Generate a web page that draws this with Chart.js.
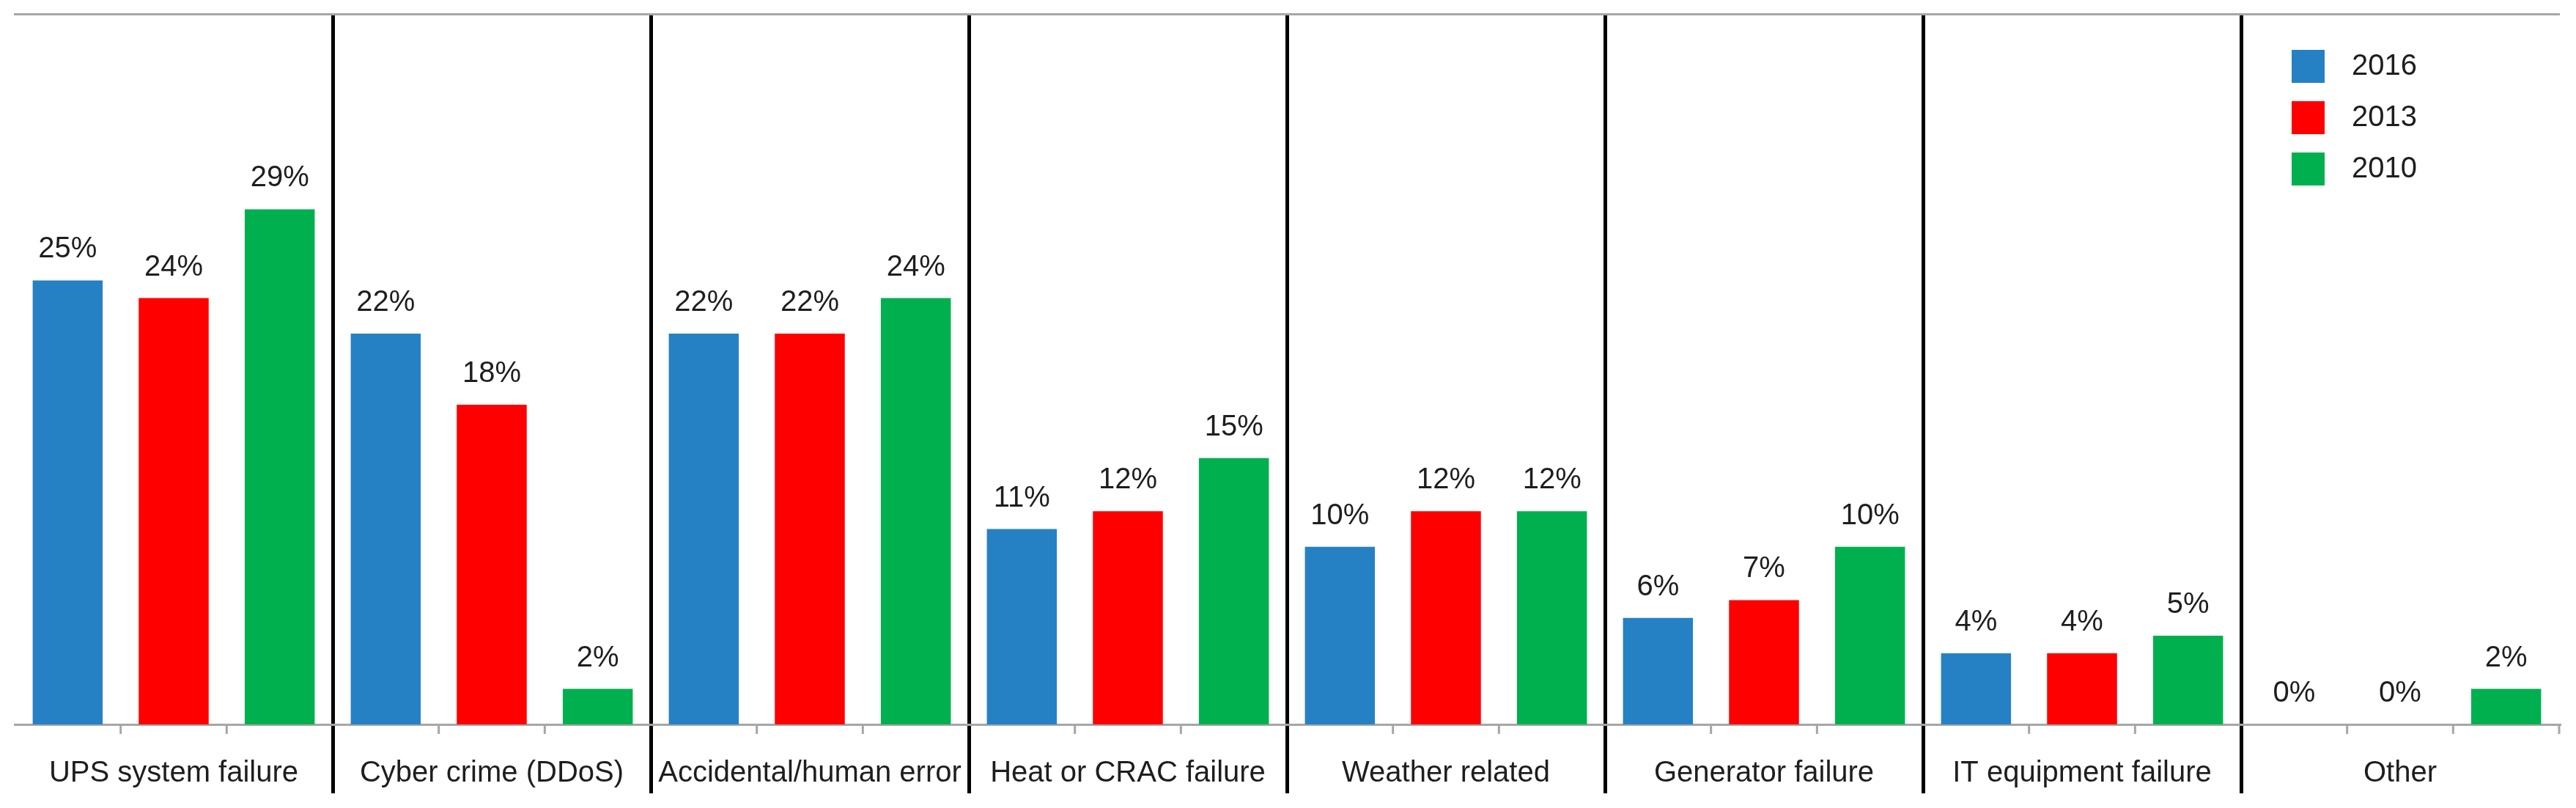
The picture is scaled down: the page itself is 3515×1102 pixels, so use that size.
<!DOCTYPE html>
<html>
<head>
<meta charset="utf-8">
<script src="https://cdn.jsdelivr.net/npm/chart.js@4.4.1/dist/chart.umd.min.js"></script>
<style>
  html, body { margin: 0; padding: 0; background: #fff; }
  #wrap { width: 3515px; height: 1102px; }
</style>
</head>
<body>
<div id="wrap"><canvas id="myChart"></canvas></div>
<script>
const categories = [
    'UPS system failure',
    'Cyber crime (DDoS)',
    'Accidental/human error',
    'Heat or CRAC failure',
    'Weather related',
    'Generator failure',
    'IT equipment failure',
    'Other',
];
const years = ['2016', '2013', '2010'];
const values2016 = [25, 22, 22, 11, 10, 6, 4, 0];
const values2013 = [24, 18, 22, 12, 12, 7, 4, 0];
const values2010 = [29, 2, 24, 15, 12, 10, 5, 2];
const colors = ['#2681c4', '#ff0000', '#00b04f'];

const font = '"Liberation Sans", Arial, sans-serif';
const textColor = '#1e1e1e';
const axisGray = '#a6a6a6';

// value labels above every bar
const barLabels = {
    id: 'barLabels',
    afterDatasetsDraw(chart) {
        const ctx = chart.ctx;
        ctx.save();
        ctx.font = '40px ' + font;
        ctx.fillStyle = textColor;
        ctx.textAlign = 'center';
        ctx.textBaseline = 'alphabetic';
        chart.data.datasets.forEach(function(ds, i) {
            chart.getDatasetMeta(i).data.forEach(function(bar, j) {
                ctx.fillText(ds.data[j] + '%', bar.x, bar.y - 31);
            });
        });
        ctx.restore();
    }
};

// small grey ticks between the bars of a group
const slotTicks = {
    id: 'slotTicks',
    afterDraw(chart) {
        const x = chart.scales.x;
        const ctx = chart.ctx;
        const n = categories.length * years.length;
        const step = (x.right - x.left) / n;
        ctx.save();
        ctx.strokeStyle = axisGray;
        ctx.lineWidth = 3;
        for (let i = 1; i <= n; i++) {
            if (i % years.length === 0 && i < n) continue;
            const px = x.left + i * step;
            ctx.beginPath();
            ctx.moveTo(px, x.top);
            ctx.lineTo(px, x.top + 13);
            ctx.stroke();
        }
        ctx.restore();
    }
};

// move the legend to the top right corner of the plot
const legendSpot = {
    id: 'legendSpot',
    afterLayout(chart) {
        const lg = chart.legend;
        const area = chart.chartArea;
        lg.left = area.right - 390;
        lg.right = area.right - 194;
        lg.top = area.top + 24;
    }
};

const data = {
    labels: categories,
    datasets: [
        { label: years[0], data: values2016, backgroundColor: colors[0], borderWidth: 0 },
        { label: years[1], data: values2013, backgroundColor: colors[1], borderWidth: 0 },
        { label: years[2], data: values2010, backgroundColor: colors[2], borderWidth: 0 },
    ]
};

const config = {
    type: 'bar',
    data: data,
    options: {
        responsive: true,
        maintainAspectRatio: false,
        animation: false,
        devicePixelRatio: 1,
        categoryPercentage: 1,
        barPercentage: 0.66,
        layout: { padding: { left: 20, right: 23, top: 19, bottom: 114 } },
        plugins: {
            tooltip: { enabled: false },
            legend: {
                position: 'chartArea',
                align: 'start',
                labels: {
                    boxWidth: 45,
                    boxHeight: 45,
                    padding: 25,
                    textAlign: 'right',
                    color: textColor,
                    font: { family: font, size: 40 }
                }
            }
        },
        scales: {
            x: {
                position: 'bottom',
                grid: {
                    offset: true,
                    drawOnChartArea: true,
                    drawTicks: true,
                    tickLength: 94,
                    lineWidth: 5,
                    color: function(c) {
                        return c.type === 'tick' && c.index > 0 ? '#000' : 'rgba(0,0,0,0)';
                    }
                },
                border: { display: true, color: axisGray, width: 3 },
                ticks: {
                    autoSkip: false,
                    maxRotation: 0,
                    minRotation: 0,
                    mirror: true,
                    padding: -91,
                    color: textColor,
                    font: { family: font, size: 40 }
                }
            },
            xTop: {
                type: 'category',
                position: 'top',
                labels: categories,
                grid: { display: false, drawTicks: false },
                ticks: { display: false },
                border: { display: true, color: axisGray, width: 3 }
            },
            y: {
                display: false,
                min: 0,
                max: 40
            }
        }
    },
    plugins: [barLabels, slotTicks, legendSpot]
};

const myChart = new Chart(
    document.getElementById('myChart'),
    config
);
</script>
</body>
</html>
